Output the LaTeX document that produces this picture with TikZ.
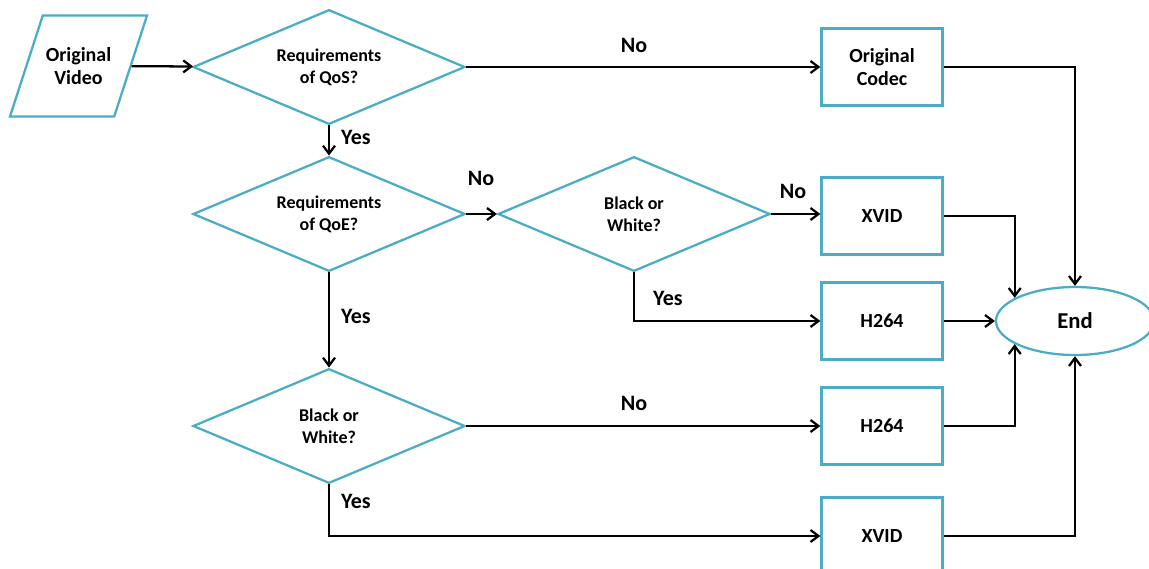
\documentclass[tikz,border=0pt]{standalone}
\usepackage{fontspec}
\setmainfont{Carlito}
\usepackage{tikz}
\usetikzlibrary{shapes.geometric}
\usetikzlibrary{arrows.meta}
\definecolor{flowblue}{HTML}{4BACC6}

\begin{document}
\begin{tikzpicture}
[every node/.style={font=\bfseries},x=0.75pt,y=-0.75pt,
flowarrow/.style = {-{Straight Barb[length=6pt,width=9pt]},line width=1.7pt},
  d/.style = {diamond,aspect=2.365,draw=flowblue,line width=1.7pt,inner sep=0pt,
        minimum width=204pt,minimum height=86pt,align=center,
        font=\fontsize{13.5}{16.5}\selectfont\bfseries},
  r/.style = {rectangle,draw=flowblue,line width=1.7pt,minimum width=90.75pt,
        minimum height=57.75pt,align=center,
        font=\fontsize{15}{17}\selectfont\bfseries},
  answer/.style = {font=\fontsize{16.5}{19}\selectfont\bfseries}]
\useasboundingbox (0,0) rectangle (1149,568);

\node[trapezium,trapezium left angle=72,trapezium right angle=108,
   trapezium stretches body=true,draw=flowblue,line width=1.7pt,inner xsep=0pt,
   inner ysep=24pt,minimum width=102.75pt,align=center,
   font=\fontsize{15}{17}\selectfont\bfseries] (video) at (78.5,66) {Original\\Video};
\node[d] (qos) at (329,67) {Requirements\\of QoS?};
   \node[d] (qoe) at (329,214) {Requirements\\of QoE?};
   \node[d] (bw-one) at (634,214) {Black or\\White?};
   \node[d] (bw-two) at (329,426) {Black or\\White?};
   \node[r] (codec-orig) at (882,67) {Original\\Codec};
   \node[r] (xvid-one) at (882,216) {XVID};
   \node[r] (h264-one) at (882,321) {H264};
   \node[r] (h264-two) at (882,426) {H264};
   \node[r] (xvid-two) at (882,536) {XVID};
   \node[ellipse,draw=flowblue,line width=1.7pt,inner sep=0pt,minimum width=118.5pt,
        minimum height=51pt,font=\fontsize{17}{20}\selectfont\bfseries] (end) at (1075,321) {End};

   \path[flowarrow] (video) edge (qos);
   \path[flowarrow] (qos) edge (codec-orig);
   \path[flowarrow] (qos) edge (qoe);
   \path[flowarrow] (qoe) edge (bw-one);
   \path[flowarrow] (bw-one) edge (xvid-one.west |- bw-one.east);
   \path[flowarrow] (qoe) edge (bw-two);
   \path[flowarrow] (bw-two) edge (h264-two);
   \draw[flowarrow] (bw-one.south) |- (h264-one);
   \draw[flowarrow] (bw-two.south) |- (xvid-two);

   \draw[flowarrow] (codec-orig.east) -| (end.north);
   \draw[flowarrow] (xvid-one.east) -| (end.159);
   \path[flowarrow] (h264-one) edge (end);
   \draw[flowarrow] (h264-two.east) -| (end.201);
   \draw[flowarrow] (xvid-two.east) -| (end.south);

\node[answer] (no-qos) at (634,45) {No};
   \node[answer] (yes-qos) at (356,137) {Yes};
   \node[answer] (no-qoe) at (481,178) {No};
   \node[answer] (yes-qoe) at (356,316) {Yes};
   \node[answer] (no-bw-one) at (793,191) {No};
   \node[answer] (yes-bw-one) at (668,298) {Yes};
   \node[answer] (no-bw-two) at (634,403) {No};
   \node[answer] (yes-bw-two) at (356,501) {Yes};
\end{tikzpicture}
\end{document}
